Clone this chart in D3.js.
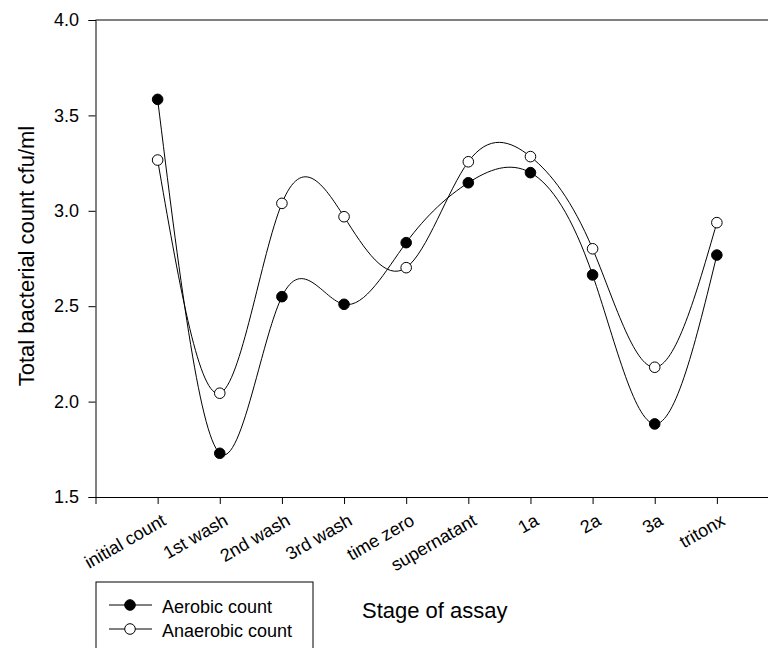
<!DOCTYPE html>
<html>
<head>
<meta charset="utf-8">
<script src="https://cdnjs.cloudflare.com/ajax/libs/d3/7.8.5/d3.min.js"></script>
<style>
  body { margin: 0; background: #fff; }
  svg { display: block; }
  svg text { font-family: "Liberation Sans", Arial, sans-serif; fill: #000; }
</style>
</head>
<body>
<script>
//Data
var stages = ["initial count", "1st wash", "2nd wash", "3rd wash", "time zero",
              "supernatant", "1a", "2a", "3a", "tritonx"];
var aerobic   = [3.584, 1.729, 2.55, 2.51, 2.833, 3.147, 3.20, 2.664, 1.883, 2.768];
var anaerobic = [3.266, 2.044, 3.039, 2.969, 2.702, 3.257, 3.284, 2.801, 2.18, 2.938];
var yTicks = [1.5, 2.0, 2.5, 3.0, 3.5, 4.0];
var seriesNames = ["Aerobic count", "Anaerobic count"];

var width = 768, height = 648;

var svg = d3.select("body").append("svg")
    .attr("width", width)
    .attr("height", height);

//Scales - one empty slot on each side of the stages
var x = d3.scaleLinear().domain([-1, stages.length]).range([95.5, 779]);
var y = d3.scaleLinear().domain([1.5, 4.0]).range([497, 20]);

//Frame top line
svg.append("line")
    .attr("x1", x(-1)).attr("x2", x(stages.length))
    .attr("y1", y(4.0)).attr("y2", y(4.0))
    .attr("stroke", "#000").attr("stroke-width", 1);

//Y axis
var yAxis = svg.append("g")
    .attr("transform", "translate(" + x(-1) + ",0)")
    .call(d3.axisLeft(y).tickValues(yTicks).tickFormat(d3.format(".1f")).tickSize(7).tickPadding(9.5));
yAxis.selectAll("text")
    .style("font-size", "18px");

//X axis
var xAxis = svg.append("g")
    .attr("transform", "translate(0," + y(1.5) + ")")
    .call(d3.axisBottom(x).tickValues(d3.range(stages.length))
          .tickFormat(function(d) {return stages[d]}).tickSize(7));
xAxis.selectAll("text")
    .style("font-size", "18px")
    .attr("text-anchor", "end")
    .attr("x", 0).attr("y", 0).attr("dy", 0)
    .attr("transform", "translate(9,27) rotate(-30)");

svg.selectAll(".domain").attr("stroke", "#000");
svg.selectAll(".tick line").attr("stroke", "#000");

//Axis titles
svg.append("text")
    .attr("transform", "translate(34,256) rotate(-90)")
    .attr("text-anchor", "middle")
    .style("font-size", "22px")
    .text("Total bacterial count cfu/ml");

svg.append("text")
    .attr("x", 362).attr("y", 618)
    .style("font-size", "22px")
    .text("Stage of assay");

//Smooth lines through the points
var line = d3.line()
    .x(function(d, i) {return x(i)})
    .y(function(d) {return y(d)})
    .curve(d3.curveNatural);

var series = [aerobic, anaerobic];
var fills = ["#000", "#fff"];

svg.selectAll("path.series")
    .data(series)
    .enter().append("path")
    .attr("class", "series")
    .attr("d", line)
    .attr("fill", "none")
    .attr("stroke", "#000")
    .attr("stroke-width", 1);

series.forEach(function(s, k) {
    svg.selectAll("circle.s" + k)
        .data(s)
        .enter().append("circle")
        .attr("class", "s" + k)
        .attr("cx", function(d, i) {return x(i)})
        .attr("cy", function(d) {return y(d)})
        .attr("r", 5.3)
        .attr("fill", fills[k])
        .attr("stroke", "#000")
        .attr("stroke-width", 1);
});

//Legend
var legend = svg.append("g");
legend.append("rect")
    .attr("x", 96).attr("y", 582)
    .attr("width", 217).attr("height", 90)
    .attr("fill", "none").attr("stroke", "#000").attr("stroke-width", 1);

var items = legend.selectAll("g.item")
    .data(seriesNames)
    .enter().append("g")
    .attr("class", "item")
    .attr("transform", function(d, i) {return "translate(0," + (605 + i * 24) + ")"});
items.append("line")
    .attr("x1", 109).attr("x2", 152)
    .attr("stroke", "#000").attr("stroke-width", 1);
items.append("circle")
    .attr("cx", 130).attr("r", 5.3)
    .attr("fill", function(d, i) {return fills[i]})
    .attr("stroke", "#000");
items.append("text")
    .attr("x", 162).attr("dy", "0.42em")
    .style("font-size", "18px")
    .text(function(d) {return d});
</script>
</body>
</html>
